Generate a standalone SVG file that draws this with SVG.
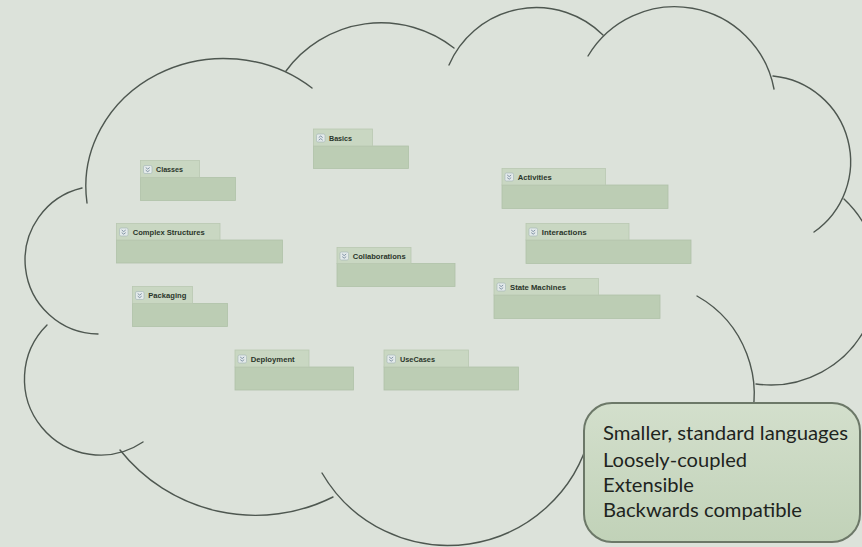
<svg xmlns="http://www.w3.org/2000/svg" width="862" height="547" viewBox="0 0 862 547">
<defs>
<linearGradient id="boxg" x1="0" y1="0" x2="0" y2="1">
<stop offset="0" stop-color="#d3dfcc"/>
<stop offset="1" stop-color="#c1d2b8"/>
</linearGradient>
<g id="chevDown"><path d="M0,0 L2,1.6 L4,0 M0,2.6 L2,4.2 L4,2.6" fill="none" stroke="#6a7e96" stroke-width="0.8"/></g>
<g id="chevUp"><path d="M0,1.6 L2,0 L4,1.6 M0,4.2 L2,2.6 L4,4.2" fill="none" stroke="#6a7e96" stroke-width="0.8"/></g>
</defs>
<style>
.bg{fill:#dce2da}
.cloud{fill:none;stroke:#4e5750;stroke-width:1.4;stroke-linecap:round}
.tab{fill:#c9d7c2;stroke:#b9c8b1;stroke-width:0.8}
.body{fill:#bccdb4;stroke:#b0c1a8;stroke-width:0.8}
.ico{fill:#e3eaea;stroke:#a3b3b6;stroke-width:0.6}
.lbl{font-family:"Liberation Sans",Arial,sans-serif;font-weight:bold;font-size:7.5px;fill:#2a352a}
.note{fill:url(#boxg);stroke:#6c7868;stroke-width:2}
.nt{font-family:Lato,"Open Sans",sans-serif;font-size:19px;fill:#1e241e}
</style>
<rect class="bg" x="0" y="0" width="862" height="547"/>

<g id="cloud">
<path class="cloud" d="M87,203 A138,128 0 0 1 312,88"/>
<path class="cloud" d="M286,71 A118,118 0 0 1 454,48"/>
<path class="cloud" d="M449,65 A95,95 0 0 1 603,35"/>
<path class="cloud" d="M588,56 A101,101 0 0 1 774,89"/>
<path class="cloud" d="M773,76 A86,86 0 0 1 814,232"/>
<path class="cloud" d="M844,199 A107.5,107.5 0 0 1 756,384"/>
<path class="cloud" d="M697,296 A112,112 0 0 1 748,430"/>
<path class="cloud" d="M322,473 A146,146 0 0 0 590,434"/>
<path class="cloud" d="M120,450 A173,173 0 0 0 333,497"/>
<path class="cloud" d="M47,325 A76,76 0 0 0 143,442"/>
<path class="cloud" d="M82,188 A74,74 0 0 0 98,334"/>
</g>

<g id="node-classes">
<rect class="body" x="140.5" y="177.5" width="95" height="23"/>
<rect class="tab" x="140.5" y="160.5" width="59" height="17"/>
<rect class="ico" x="143.5" y="165.5" width="8.5" height="8" rx="1.5"/>
<use href="#chevDown" x="145.7" y="167.5"/>
<text class="lbl" x="156" y="172.3" textLength="27" lengthAdjust="spacingAndGlyphs">Classes</text>
</g>
<g id="node-basics">
<rect class="body" x="313.5" y="146" width="95" height="22.5"/>
<rect class="tab" x="313.5" y="129" width="59" height="17"/>
<rect class="ico" x="316.5" y="134" width="8.5" height="8" rx="1.5"/>
<use href="#chevUp" x="318.7" y="136"/>
<text class="lbl" x="329" y="140.8" textLength="23" lengthAdjust="spacingAndGlyphs">Basics</text>
</g>
<g id="node-complex">
<rect class="body" x="116.5" y="240" width="166" height="23"/>
<rect class="tab" x="116.5" y="223.5" width="103.5" height="16.5"/>
<rect class="ico" x="119.5" y="228" width="8.5" height="8" rx="1.5"/>
<use href="#chevDown" x="121.7" y="230"/>
<text class="lbl" x="132.7" y="234.8" textLength="72" lengthAdjust="spacingAndGlyphs">Complex Structures</text>
</g>
<g id="node-collaborations">
<rect class="body" x="337" y="263.5" width="118" height="23"/>
<rect class="tab" x="337" y="247.5" width="74" height="16"/>
<rect class="ico" x="340" y="252" width="8.5" height="8" rx="1.5"/>
<use href="#chevDown" x="342.2" y="254"/>
<text class="lbl" x="352.7" y="258.8" textLength="53" lengthAdjust="spacingAndGlyphs">Collaborations</text>
</g>
<g id="node-activities">
<rect class="body" x="502" y="185" width="166" height="23.5"/>
<rect class="tab" x="502" y="168.5" width="103.5" height="16.5"/>
<rect class="ico" x="505" y="173" width="8.5" height="8" rx="1.5"/>
<use href="#chevDown" x="507.2" y="175"/>
<text class="lbl" x="517.7" y="179.8" textLength="34" lengthAdjust="spacingAndGlyphs">Activities</text>
</g>
<g id="node-interactions">
<rect class="body" x="526" y="240" width="165" height="23.5"/>
<rect class="tab" x="526" y="223.5" width="103" height="16.5"/>
<rect class="ico" x="529" y="228" width="8.5" height="8" rx="1.5"/>
<use href="#chevDown" x="531.2" y="230"/>
<text class="lbl" x="541.7" y="234.8" textLength="45" lengthAdjust="spacingAndGlyphs">Interactions</text>
</g>
<g id="node-statemachines">
<rect class="body" x="494" y="295" width="166" height="23.5"/>
<rect class="tab" x="494" y="278.5" width="104.5" height="16.5"/>
<rect class="ico" x="497" y="283" width="8.5" height="8" rx="1.5"/>
<use href="#chevDown" x="499.2" y="285"/>
<text class="lbl" x="510" y="289.8" textLength="56" lengthAdjust="spacingAndGlyphs">State Machines</text>
</g>
<g id="node-packaging">
<rect class="body" x="132.5" y="303.5" width="95" height="23"/>
<rect class="tab" x="132.5" y="286.5" width="60" height="17"/>
<rect class="ico" x="135.5" y="291.5" width="8.5" height="8" rx="1.5"/>
<use href="#chevDown" x="137.7" y="293.5"/>
<text class="lbl" x="148.3" y="298.3" textLength="38" lengthAdjust="spacingAndGlyphs">Packaging</text>
</g>
<g id="node-deployment">
<rect class="body" x="235" y="367" width="118.5" height="23"/>
<rect class="tab" x="235" y="350" width="74" height="17"/>
<rect class="ico" x="238" y="355" width="8.5" height="8" rx="1.5"/>
<use href="#chevDown" x="240.2" y="357"/>
<text class="lbl" x="250.7" y="361.8" textLength="44" lengthAdjust="spacingAndGlyphs">Deployment</text>
</g>
<g id="node-usecases">
<rect class="body" x="384" y="367" width="134.5" height="23"/>
<rect class="tab" x="384" y="350" width="84.5" height="17"/>
<rect class="ico" x="387" y="355" width="8.5" height="8" rx="1.5"/>
<use href="#chevDown" x="389.2" y="357"/>
<text class="lbl" x="400" y="361.8" textLength="35" lengthAdjust="spacingAndGlyphs">UseCases</text>
</g>

<g id="note">
<rect class="note" x="584" y="403" width="276" height="139" rx="28" ry="28"/>
<text class="nt" x="603" y="440" textLength="245" lengthAdjust="spacingAndGlyphs">Smaller, standard languages</text>
<text class="nt" x="603" y="466.5" textLength="144" lengthAdjust="spacingAndGlyphs">Loosely-coupled</text>
<text class="nt" x="603" y="492" textLength="91" lengthAdjust="spacingAndGlyphs">Extensible</text>
<text class="nt" x="603" y="517" textLength="199" lengthAdjust="spacingAndGlyphs">Backwards compatible</text>
</g>
</svg>
